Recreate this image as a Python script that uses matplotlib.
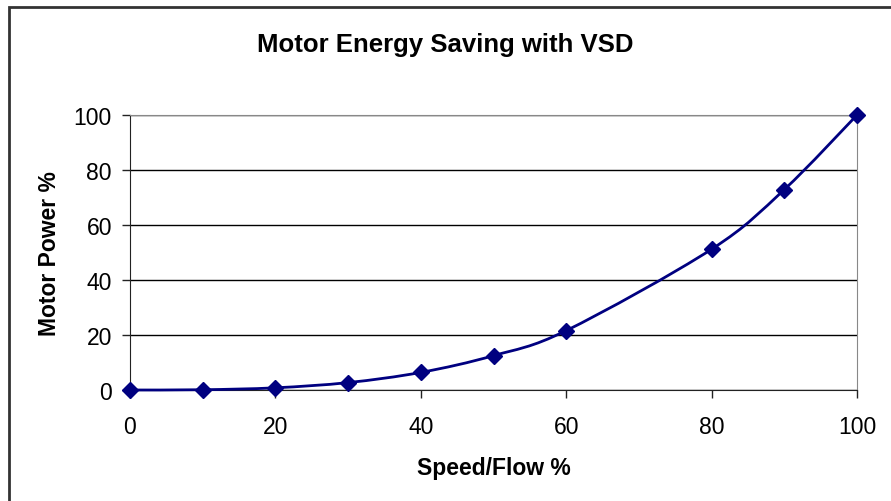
import numpy as np
import matplotlib
matplotlib.use("Agg")
import matplotlib.pyplot as plt
from matplotlib.path import Path
from matplotlib.patches import PathPatch, Rectangle

plt.rcParams['font.family'] = ['Liberation Sans', 'DejaVu Sans']

speed = [0, 10, 20, 30, 40, 50, 60, 80, 90, 100]
power = [0, 0.1, 0.8, 2.7, 6.4, 12.5, 21.6, 51.2, 72.9, 100]

fig = plt.figure(figsize=(8.91, 5.02), dpi=100)
fig.add_artist(Rectangle((9/891, -0.1), 1.0, 1 - 8/502 + 0.1, transform=fig.transFigure,
                         fill=False, edgecolor="#333333", lw=2))
ax = fig.add_axes([130/891, 1 - 391/502, 727/891, 275/502])

# smoothed line (Bezier segments, Excel-style)
P = np.column_stack([speed, power]).astype(float)
n = len(P)
verts = [P[0]]; codes = [Path.MOVETO]
for i in range(n - 1):
    p0 = P[i - 1] if i > 0 else P[i]
    p3 = P[i + 2] if i + 2 < n else P[i + 1]
    c1 = P[i] + (P[i + 1] - p0) / 6
    c2 = P[i + 1] - (p3 - P[i]) / 6
    verts += [c1, c2, P[i + 1]]; codes += [Path.CURVE4] * 3
ax.add_patch(PathPatch(Path(verts, codes), fill=False, edgecolor="#000080", lw=2, zorder=3,
                       clip_on=False))
ax.plot(speed, power, "D", color="#000080", ms=8.5, zorder=4, clip_on=False)

ax.set_xlim(0, 100); ax.set_ylim(0, 100)
ax.set_xticks(range(0, 101, 20)); ax.set_yticks(range(0, 101, 20))
ax.yaxis.grid(True, color="black", lw=1)
ax.set_axisbelow(True)
for s in ["top", "right"]:
    ax.spines[s].set_color("#888888")
for s in ["left", "bottom"]:
    ax.spines[s].set_color("#222222")
ax.tick_params(labelsize=16.5, length=6, width=1, color="#222222")
ax.tick_params(axis="x", pad=12)
ax.tick_params(axis="y", pad=7)
ax.set_xlabel("Speed/Flow %", fontsize=16.5, fontweight="bold", labelpad=13)
ax.set_ylabel("Motor Power %", fontsize=16.5, fontweight="bold", labelpad=9)
fig.suptitle("Motor Energy Saving with VSD", fontsize=18.5, fontweight="bold", y=1 - 45/502, va="center")

fig.savefig("out.png", dpi=100)
